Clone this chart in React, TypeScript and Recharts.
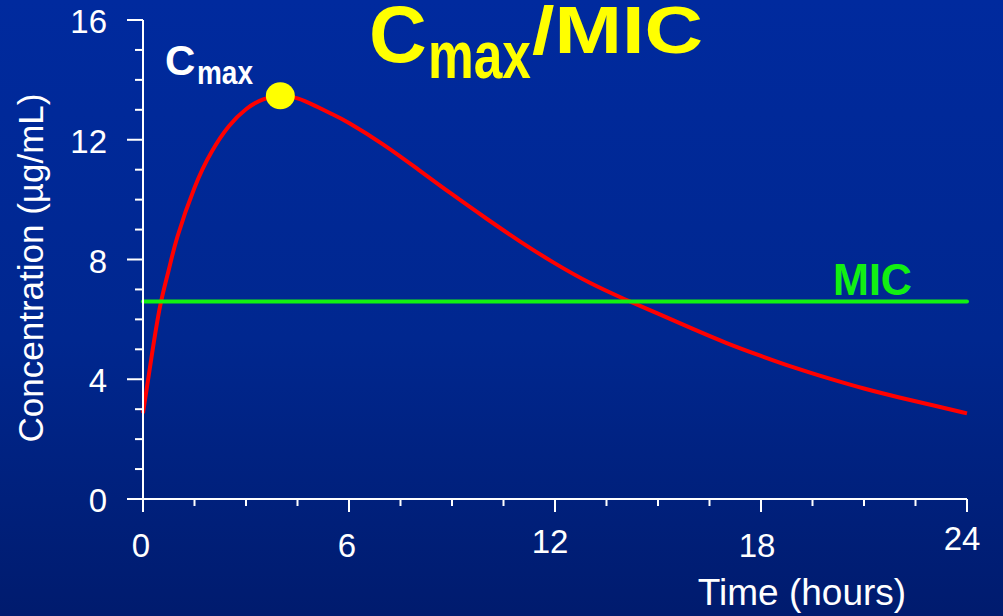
import React from "react";
import {
  LineChart,
  Line,
  XAxis,
  YAxis,
  ReferenceLine,
  ReferenceDot,
} from "recharts";

// hours after dose
const times = [
  0, 0.25, 0.5, 0.75, 1, 1.5, 2, 2.5, 3, 3.5, 4, 4.5, 5, 5.5, 6, 7, 8, 9, 10,
  11, 12, 13, 14, 15, 16, 17, 18, 19, 20, 21, 22, 23, 24,
];
// µg/mL
const concentration = [
  2.87, 4.75, 6.45, 7.65, 8.75, 10.4, 11.6, 12.45, 13.02, 13.35, 13.46, 13.38,
  13.14, 12.86, 12.56, 11.84, 11.02, 10.18, 9.37, 8.59, 7.87, 7.23, 6.69, 6.19,
  5.69, 5.21, 4.78, 4.38, 4.02, 3.69, 3.4, 3.13, 2.86,
];
const mic = 6.6;
const cmaxTime = 4;
const cmax = 13.47;

const xTicks = [
  0, 1.5, 3, 4.5, 6, 7.5, 9, 10.5, 12, 13.5, 15, 16.5, 18, 19.5, 21, 22.5, 24,
];
const xLabels = [0, 6, 12, 18, 24];
const yTicks = [0, 1, 2, 3, 4, 5, 6, 7, 8, 9, 10, 11, 12, 13, 14, 15, 16];
const yLabels = [0, 4, 8, 12, 16];

const data = times.map((t, i) => ({ t, c: concentration[i] }));

const FONT = "Arial, 'Liberation Sans', sans-serif";

// small nudges so the labels sit like the slide's hand placed ones
const xNudge: Record<number, [number, number]> = {
  0: [-2, 0],
  6: [-2, 0],
  12: [-5, -4],
  18: [-4, 0],
  24: [-5, -7],
};

function XTick(props: any) {
  const { x, y, payload } = props;
  const v = payload.value;
  const major = xLabels.includes(v);
  const [dx, dy] = xNudge[v] ?? [0, 0];
  return (
    <g>
      <line x1={x} x2={x} y1={y} y2={y + (major ? 13 : 7)} stroke="#fff" strokeWidth={2} />
      {major && (
        <text x={x + dx} y={y + 58 + dy} textAnchor="middle" fill="#fff" fontSize={33} fontFamily={FONT}>
          {v}
        </text>
      )}
    </g>
  );
}

function YTick(props: any) {
  const { x, y, payload } = props;
  const v = payload.value;
  const major = yLabels.includes(v);
  return (
    <g>
      <line x1={x - (major ? 16 : 8)} x2={x} y1={y} y2={y} stroke="#fff" strokeWidth={2} />
      {major && (
        <text x={x - 36} y={y + 13} textAnchor="end" fill="#fff" fontSize={33} fontFamily={FONT}>
          {v}
        </text>
      )}
    </g>
  );
}

function PeakDot(props: any) {
  const { cx, cy } = props;
  return <ellipse cx={cx} cy={cy} rx={14.5} ry={13.5} fill="#ffff00" />;
}

export default function App() {
  return (
    <div
      style={{
        position: "fixed",
        left: 0,
        top: 0,
        width: 1003,
        height: 616,
        background: "linear-gradient(180deg, #002a9e 0%, #00278f 55%, #001b6e 100%)",
        fontFamily: FONT,
      }}
    >
      <LineChart
        width={1003}
        height={616}
        data={data}
        margin={{ top: 20, right: 36, bottom: 0, left: 0 }}
      >
        <XAxis
          dataKey="t"
          type="number"
          domain={[0, 24]}
          ticks={xTicks}
          interval={0}
          tickSize={0}
          tickMargin={0}
          tickLine={false}
          tick={<XTick />}
          height={117}
          axisLine={{ stroke: "#fff", strokeWidth: 2 }}
        />
        <YAxis
          type="number"
          domain={[0, 16]}
          ticks={yTicks}
          interval={0}
          tickSize={0}
          tickMargin={0}
          tickLine={false}
          tick={<YTick />}
          width={143}
          axisLine={{ stroke: "#fff", strokeWidth: 2 }}
        />
        <Line
          type="natural"
          dataKey="c"
          stroke="#ff0000"
          strokeWidth={4}
          dot={false}
          activeDot={false}
          isAnimationActive={false}
        />
        <ReferenceLine y={mic} stroke="#12f012" strokeWidth={4} strokeLinecap="round" />
        <ReferenceDot x={cmaxTime} y={cmax} r={14} shape={<PeakDot />} />

        <text x={43} y={268} transform="rotate(-90 43 268)" textAnchor="middle" fill="#fff" fontSize={35} fontFamily={FONT}>
          Concentration (µg/mL)
        </text>
        <text x={802} y={605} textAnchor="middle" fill="#fff" fontSize={37} fontFamily={FONT}>
          Time (hours)
        </text>

        <g fill="#ffff00" fontWeight="bold" fontFamily={FONT}>
          <text x={369} y={62} fontSize={80}>C</text>
          <text x={428} y={78} fontSize={66} textLength={103} lengthAdjust="spacingAndGlyphs">max</text>
          <text x={532} y={53} fontSize={67} textLength={171} lengthAdjust="spacingAndGlyphs">/MIC</text>
        </g>
        <g fill="#fff" fontWeight="bold" fontFamily={FONT}>
          <text x={165} y={75} fontSize={42}>C</text>
          <text x={197} y={84} fontSize={34} textLength={56} lengthAdjust="spacingAndGlyphs">max</text>
        </g>
        <text x={833} y={295} fill="#12f012" fontWeight="bold" fontSize={44} fontFamily={FONT} textLength={79} lengthAdjust="spacingAndGlyphs">
          MIC
        </text>
      </LineChart>
    </div>
  );
}
